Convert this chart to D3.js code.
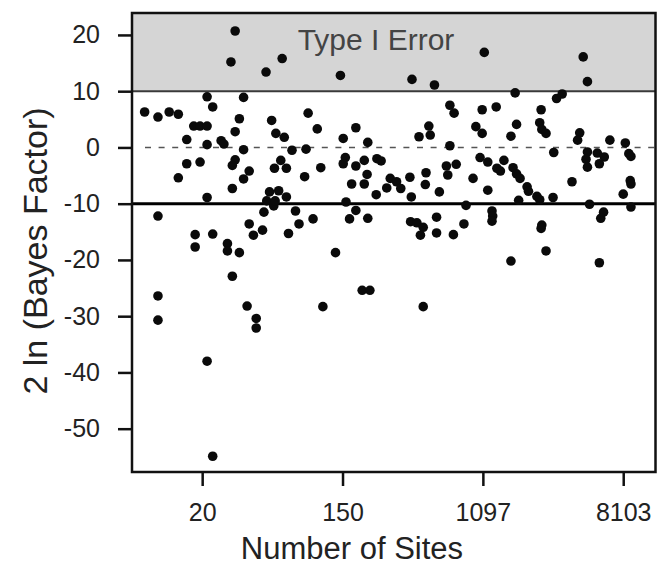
<!DOCTYPE html>
<html>
<head>
<meta charset="utf-8">
<script src="https://d3js.org/d3.v7.min.js"></script>
<style>
  body { margin: 0; background: #fff; }
  svg text { font-family: "Liberation Sans", Arial, sans-serif; }
</style>
</head>
<body>
<svg id="chart" width="660" height="566"></svg>
<script>
// ln(number of sites) for each locus
var sitesLn = [
  3.47, 3.41, 3.91, 4.14, 4.97, 5.99, 6.31, 7.02, 8.43, 8.49,
  7.46, 8.05, 8.13,
  3.07, 3.59, 2.18, 2.37, 2.53, 2.66, 3.15, 3.53, 2.88, 2.97, 3.07, 3.47, 2.78, 3.27, 3.31, 3.07, 3.59,
  2.78, 2.97, 2.66, 3.47, 3.43, 3.67, 3.59, 3.43, 3.07, 2.37, 2.90, 2.90, 3.15, 3.36, 3.36, 3.53, 3.43,
  2.37, 2.37, 3.07, 3.15, 3.64, 3.77, 3.77, 4.72, 5.28, 5.39, 6.15,
  3.67, 3.73, 3.86, 3.88, 3.92, 3.96, 4.02, 4.04, 4.09, 4.20, 4.23, 4.33, 4.38, 4.58,
  3.99, 4.51, 4.05, 4.17, 4.64, 4.28, 4.48, 4.12, 4.03, 4.20, 4.46, 4.69, 5.01, 5.19, 5.36, 5.04, 5.01,
  5.19, 5.31, 5.49, 5.55, 5.35, 5.13, 5.31, 5.68, 5.63, 5.48, 5.05, 5.19, 5.10, 5.36, 4.90,
  6.53, 6.59, 6.99, 7.19, 6.23, 6.25, 6.09, 6.90, 6.99, 7.48, 7.40, 6.53, 6.96, 7.07, 7.30, 7.20, 7.25,
  7.43, 7.48, 7.53, 6.48, 6.62, 6.50, 6.86, 7.07, 6.19, 6.18, 5.96, 5.77, 5.83, 5.98, 6.38, 6.76, 7.51,
  7.13, 7.14, 7.13, 6.34, 6.73, 5.97, 6.06, 6.15, 6.11, 6.34, 6.58, 7.40,
  7.83, 7.81, 7.84, 7.90, 8.38, 8.35, 8.81, 9.03, 9.08, 9.11, 8.01, 8.49, 8.47, 8.49, 8.63, 8.73, 8.66,
  8.27, 9.10, 9.11, 9.00, 7.63, 7.65, 7.77, 7.81, 8.00, 8.52, 9.11, 8.72, 8.68, 7.84, 7.83, 7.90, 8.66
];
// 2 ln (Bayes Factor) for each locus
var twoLnBF = [
  20.7, 15.2, 13.4, 15.8, 12.8, 12.1, 11.1, 16.9, 16.1, 11.7,
  9.7, 8.7, 9.5,
  9.0, 8.9, 6.3, 5.4, 6.3, 5.9, 7.2, 5.1, 3.8, 3.8, 3.8, 2.8, 1.4, 1.2, 0.6, 0.5, -0.4,
  -2.9, -2.6, -5.4, -2.2, -3.2, -4.2, -5.6, -7.3, -8.9, -12.2, -15.5, -17.7, -15.4, -17.1, -18.4, -18.7, -22.9,
  -26.4, -30.7, -38.0, -54.9, -28.2, -30.4, -32.1, -28.3, -25.4, -25.4, -28.3,
  -13.6, -15.6, -14.7, -11.5, -9.5, -7.9, -10.4, -9.5, -7.7, -8.8, -15.3, -11.3, -13.6, -12.7,
  4.8, 6.1, 2.5, 1.8, 3.3, -0.5, -0.3, -2.3, -3.7, -3.7, -5.2, -3.6, 1.6, 3.5, 0.9, -1.8, -2.9,
  -3.3, -2.3, -2.0, -2.4, -4.8, -6.5, -6.5, -5.5, -7.2, -8.4, -9.7, -11.2, -12.7, -12.6, -18.7,
  7.5, 6.1, 6.7, 7.2, 3.8, 2.2, 1.9, 3.7, 2.5, 4.1, 2.0, 0.3, -1.8, -2.6, -2.3, -3.7, -4.2,
  -3.6, -4.7, -5.5, -3.3, -3.0, -4.9, -5.5, -7.6, -4.5, -6.6, -5.3, -6.1, -7.3, -8.8, -7.9, -10.3, -9.4,
  -11.3, -12.2, -13.1, -12.4, -13.6, -13.2, -13.4, -14.2, -15.6, -15.2, -15.5, -20.2,
  6.7, 4.4, 3.2, 2.5, 2.6, 1.3, 1.3, 0.8, -1.1, -1.6, -0.9, -0.8, -2.1, -3.5, -1.0, -1.7, -2.9,
  -6.1, -5.9, -6.5, -8.3, -7.0, -7.8, -8.7, -9.3, -8.9, -10.1, -10.6, -11.5, -12.6, -13.8, -14.4, -18.4, -20.5
];
var xTicks = [3, 5, 7, 9];
var xTickLabels = ["20", "150", "1097", "8103"];
var yTicks = [20, 10, 0, -10, -20, -30, -40, -50];
var errorCut = 10, lowerCut = -10, zeroLine = 0;

var plotL = 132, plotR = 655.5, plotT = 13, plotB = 472;
var svg = d3.select("#chart");

var x = d3.scaleLinear().domain([2.0, 9.46]).range([plotL, plotR]);
var y = d3.scaleLinear().domain([-57.7, 23.9]).range([plotB, plotT]);

// Type I error band
svg.append("rect")
  .attr("x", plotL).attr("y", plotT)
  .attr("width", plotR - plotL).attr("height", y(errorCut) - plotT)
  .attr("fill", "#d5d5d5");

svg.append("text")
  .attr("x", 376).attr("y", 50)
  .attr("text-anchor", "middle")
  .attr("font-size", 30)
  .attr("fill", "#444")
  .text("Type I Error");

svg.append("line")
  .attr("x1", plotL).attr("x2", plotR)
  .attr("y1", y(errorCut)).attr("y2", y(errorCut))
  .attr("stroke", "#3a3a3a").attr("stroke-width", 2);

svg.append("line")
  .attr("x1", 145).attr("x2", plotR)
  .attr("y1", y(zeroLine)).attr("y2", y(zeroLine))
  .attr("stroke", "#555").attr("stroke-width", 1.5)
  .attr("stroke-dasharray", "6,7.6");

svg.append("line")
  .attr("x1", plotL).attr("x2", plotR)
  .attr("y1", y(lowerCut)).attr("y2", y(lowerCut))
  .attr("stroke", "#000").attr("stroke-width", 3);

// frame
svg.append("rect")
  .attr("x", plotL).attr("y", plotT)
  .attr("width", plotR - plotL).attr("height", plotB - plotT)
  .attr("fill", "none").attr("stroke", "#111").attr("stroke-width", 2.5);

var yAxis = svg.append("g")
  .attr("transform", "translate(" + plotL + ",0)")
  .call(d3.axisLeft(y).tickValues(yTicks).tickSize(14).tickPadding(18)
    .tickFormat(function(d) { return String(d); }));
var xAxis = svg.append("g")
  .attr("transform", "translate(0," + plotB + ")")
  .call(d3.axisBottom(x).tickValues(xTicks).tickSize(14).tickPadding(17)
    .tickFormat(function(d, i) { return xTickLabels[i]; }));

[xAxis, yAxis].forEach(function(g) {
  g.attr("font-size", 25).attr("font-family", "'Liberation Sans', Arial, sans-serif");
  g.select(".domain").remove();
  g.selectAll(".tick line").attr("stroke", "#111").attr("stroke-width", 2.5);
  g.selectAll(".tick text").attr("fill", "#222");
});

svg.append("text")
  .attr("x", 352).attr("y", 559)
  .attr("text-anchor", "middle")
  .attr("font-size", 31)
  .attr("fill", "#222")
  .text("Number of Sites");

svg.append("text")
  .attr("transform", "translate(47,251) rotate(-90)")
  .attr("text-anchor", "middle")
  .attr("font-size", 34)
  .attr("fill", "#222")
  .text("2 ln (Bayes Factor)");

svg.append("g")
  .selectAll("circle")
  .data(sitesLn)
  .enter().append("circle")
  .attr("cx", function(d) { return x(d); })
  .attr("cy", function(d, i) { return y(twoLnBF[i]); })
  .attr("r", 4.8)
  .attr("fill", "#0a0a0a");
</script>
</body>
</html>
